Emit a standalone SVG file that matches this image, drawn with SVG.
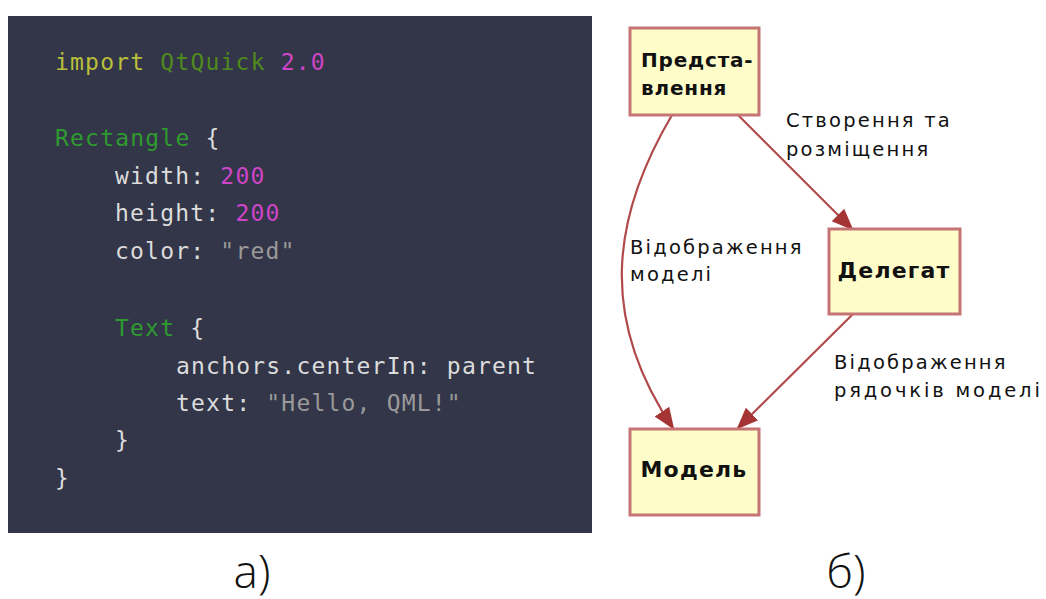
<svg xmlns="http://www.w3.org/2000/svg" width="1046" height="599" viewBox="0 0 1046 599">
<defs>
<style>
.code{font-family:"DejaVu Sans Mono",monospace;font-size:23px;letter-spacing:1.2px;fill:#dcdcdc}
.kw{fill:#b9bf3a}.mod{fill:#4f8a1e}.num{fill:#cf45c8}.ty{fill:#2f9a30}.str{fill:#9a9a9a}
.node rect{fill:#fefcc8;stroke:#c57474;stroke-width:3}
.nt{font-family:"DejaVu Sans",sans-serif;font-size:20px;font-weight:bold;fill:#111;letter-spacing:0.8px}
.nb{font-size:22px;letter-spacing:1.2px}
.el{font-family:"DejaVu Sans",sans-serif;font-size:19.5px;fill:#111;letter-spacing:2.2px}
.edge{fill:none;stroke:#b04a4a;stroke-width:2.2}
.cap{font-family:"Open Sans",sans-serif;font-weight:300;font-size:46px;fill:#111}
</style>
<marker id="arrL" viewBox="0 0 10 10" refX="9" refY="5" markerWidth="22" markerHeight="22" markerUnits="userSpaceOnUse" orient="auto">
<path d="M0,1 L10,5 L0,9 z" fill="#a53535"/>
</marker>
</defs>
<rect width="1046" height="599" fill="#ffffff"/>
<g id="code-panel">
<rect x="8" y="16" width="584" height="517" fill="#323648"/>
<text class="code" x="55" y="70"><tspan class="kw">import</tspan> <tspan class="mod">QtQuick</tspan> <tspan class="num">2.0</tspan></text>
<text class="code" x="55" y="146"><tspan class="ty">Rectangle</tspan> {</text>
<text class="code" x="115" y="184">width: <tspan class="num">200</tspan></text>
<text class="code" x="115" y="221">height: <tspan class="num">200</tspan></text>
<text class="code" x="115" y="259">color: <tspan class="str">"red"</tspan></text>
<text class="code" x="115" y="336"><tspan class="ty">Text</tspan> {</text>
<text class="code" x="176" y="374">anchors.centerIn: parent</text>
<text class="code" x="176" y="411">text: <tspan class="str">"Hello, QML!"</tspan></text>
<text class="code" x="115" y="448">}</text>
<text class="code" x="55" y="486">}</text>
</g>
<g id="connectors">
<path class="edge" d="M738,115 L852,229" marker-end="url(#arrL)"/>
<path class="edge" d="M672,115 C610,220 600,320 673,428" marker-end="url(#arrL)"/>
<path class="edge" d="M853,314 L738,428" marker-end="url(#arrL)"/>
<text class="el" x="786" y="127">Створення та</text>
<text class="el" x="786" y="156">розміщення</text>
<text class="el" x="630" y="254">Відображення</text>
<text class="el" x="630" y="281">моделі</text>
<text class="el" x="834" y="369">Відображення</text>
<text class="el" x="834" y="397" textLength="208" lengthAdjust="spacing">рядочків моделі</text>
</g>
<g id="node-view" class="node">
<rect x="630" y="28" width="129" height="87"/>
<text class="nt" x="641" y="67">Предста-</text>
<text class="nt" x="641" y="95">влення</text>
</g>
<g id="node-delegate" class="node">
<rect x="829" y="229" width="131" height="85"/>
<text class="nt nb" x="894" y="278" text-anchor="middle">Делегат</text>
</g>
<g id="node-model" class="node">
<rect x="630" y="429" width="129" height="86"/>
<text class="nt nb" x="694" y="477" text-anchor="middle">Модель</text>
</g>
<g id="captions">
<text class="cap" x="252" y="588" text-anchor="middle">а)</text>
<text class="cap" x="846" y="588" text-anchor="middle">б)</text>
</g>
</svg>
